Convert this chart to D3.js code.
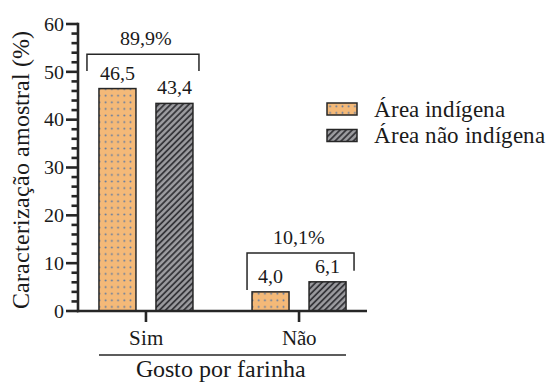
<!DOCTYPE html>
<html>
<head>
<meta charset="utf-8">
<script src="https://cdn.jsdelivr.net/npm/d3@7"></script>
<style>
  @font-face {
    font-family: "ChartSerif";
    src: local("Liberation Serif"), local("LiberationSerif"), local("Liberation Serif Regular"), local("Times New Roman");
  }
</style>
</head>
<body style="margin:0">
<svg id="chart" width="547" height="383" style="font-family: ChartSerif, 'Liberation Serif', 'Times New Roman', Tinos;"></svg>
<script>
// Sample characterisation: liking for cassava flour, by area
const categories = ["Sim", "Não"];
const seriesNames = ["Área indígena", "Área não indígena"];
const indigenous = [46.5, 4.0];
const nonIndigenous = [43.4, 6.1];
const groupTotals = ["89,9%", "10,1%"];
const yTicks = [0, 10, 20, 30, 40, 50, 60];

const fmt = v => v.toFixed(1).replace(".", ",");
const series = [indigenous, nonIndigenous];

const svg = d3.select("#chart");
const ink = "#262626";
const textInk = "#1a1a1a";
const face = "ChartSerif, 'Liberation Serif', 'Times New Roman', Tinos";

// every label is set in the serif face
function label(sel, size) {
  return sel.attr("font-size", size).attr("fill", textInk)
    .style("font-family", face);
}

// patterns: dotted orange and hatched grey
const defs = svg.append("defs");
const dots = defs.append("pattern").attr("id", "dots")
  .attr("patternUnits", "userSpaceOnUse").attr("width", 6.2).attr("height", 6.6);
dots.append("rect").attr("width", 6.2).attr("height", 6.6).attr("fill", "#F4B978");
dots.append("circle").attr("cx", 3.1).attr("cy", 3.3).attr("r", 0.95).attr("fill", "#5877a3");

const hatch = defs.append("pattern").attr("id", "hatch")
  .attr("patternUnits", "userSpaceOnUse").attr("width", 4.3).attr("height", 8)
  .attr("patternTransform", "rotate(45)");
hatch.append("rect").attr("width", 4.3).attr("height", 8).attr("fill", "#9c9ca0");
hatch.append("line").attr("x1", 1).attr("x2", 1).attr("y1", 0).attr("y2", 8)
  .attr("stroke", "#2e2e33").attr("stroke-width", 1.7);

const fills = ["url(#dots)", "url(#hatch)"];

// scales
const y = d3.scaleLinear().domain([0, 60]).range([311, 24]);
const x0 = d3.scalePoint().domain(categories).range([78, 367]).padding(0.444);
const x1 = d3.scaleBand().domain(d3.range(series.length)).range([-47, 47]).paddingInner(0.351);

// bars
const groups = svg.append("g").selectAll("g").data(categories).join("g")
  .attr("transform", d => `translate(${x0(d)},0)`);

groups.each(function (cat, ci) {
  const g = d3.select(this);
  series.forEach((vals, si) => {
    const v = vals[ci];
    g.append("rect")
      .attr("x", x1(si)).attr("width", x1.bandwidth())
      .attr("y", y(v)).attr("height", y(0) - y(v))
      .attr("fill", fills[si]).attr("stroke", ink).attr("stroke-width", 1.5);
    label(g.append("text"), 20)
      .attr("x", x1(si) + x1.bandwidth() / 2).attr("y", y(v) - 9)
      .attr("text-anchor", "middle")
      .text(fmt(v));
  });
});

// brackets with group totals (levels in data units, legs per side)
const bracketLayout = [
  { top: 53.7, left: 50.2, right: 50.2, x0: -59, x1: 53 },
  { top: 12.1, left: 4.4, right: 8.4, x0: -52, x1: 55 }
];
categories.forEach((cat, ci) => {
  const b = bracketLayout[ci];
  const cx = x0(cat);
  const path = d3.path();
  path.moveTo(cx + b.x0, y(b.left));
  path.lineTo(cx + b.x0, y(b.top));
  path.lineTo(cx + b.x1, y(b.top));
  path.lineTo(cx + b.x1, y(b.right));
  svg.append("path").attr("d", path.toString())
    .attr("fill", "none").attr("stroke", ink).attr("stroke-width", 1.5);
  label(svg.append("text"), 20)
    .attr("x", cx).attr("y", y(b.top) - 9)
    .attr("text-anchor", "middle")
    .text(groupTotals[ci]);
});

// y axis with minor ticks every 2 units
const yAxis = svg.append("g").attr("transform", "translate(78,0)");
yAxis.append("line").attr("x1", 0).attr("x2", 0)
  .attr("y1", y(60) - 1.3).attr("y2", y(0) + 1.3)
  .attr("stroke", ink).attr("stroke-width", 2.6);
yAxis.selectAll(".minor").data(d3.range(0, 61, 2)).join("line")
  .attr("x1", d => d % 10 === 0 ? -12 : -6.5).attr("x2", 0)
  .attr("y1", d => y(d)).attr("y2", d => y(d))
  .attr("stroke", ink).attr("stroke-width", 2.6);
label(yAxis.selectAll("text").data(yTicks).join("text"), 20)
  .attr("x", -14).attr("y", d => y(d)).attr("dy", "0.34em")
  .attr("text-anchor", "end")
  .text(d => d);

label(svg.append("text"), 23.5)
  .attr("transform", `translate(29,${(y(0) + y(60)) / 2 + 2}) rotate(-90)`)
  .attr("text-anchor", "middle")
  .text("Caracterização amostral (%)");

// x axis
const xAxis = svg.append("g");
xAxis.append("line").attr("x1", 77).attr("x2", 367)
  .attr("y1", y(0)).attr("y2", y(0))
  .attr("stroke", ink).attr("stroke-width", 2.6);
xAxis.selectAll(".tick").data(categories).join("line")
  .attr("x1", d => x0(d)).attr("x2", d => x0(d))
  .attr("y1", y(0)).attr("y2", y(0) + 11)
  .attr("stroke", ink).attr("stroke-width", 2.6);
label(xAxis.selectAll("text").data(categories).join("text"), 20.5)
  .attr("x", d => x0(d)).attr("y", 345)
  .attr("text-anchor", "middle")
  .text(d => d);

const spanL = x0(categories[0]) + x1(0);
const spanR = x0(categories[1]) + x1(1) + x1.bandwidth();
svg.append("line").attr("x1", spanL).attr("x2", spanR)
  .attr("y1", 355).attr("y2", 355).attr("stroke", ink).attr("stroke-width", 1.3);
label(svg.append("text"), 23.5)
  .attr("x", (spanL + spanR) / 2 - 2).attr("y", 377)
  .attr("text-anchor", "middle")
  .text("Gosto por farinha");

// legend
const legend = svg.append("g").attr("transform", "translate(327,103)");
seriesNames.forEach((name, i) => {
  const row = legend.append("g").attr("transform", `translate(0,${i * 26.5})`);
  row.append("rect").attr("width", 30).attr("height", 12)
    .attr("fill", fills[i]).attr("stroke", ink).attr("stroke-width", 1.5);
  label(row.append("text"), 23)
    .attr("x", 47).attr("y", 13.5)
    .text(name);
});
</script>
</body>
</html>
